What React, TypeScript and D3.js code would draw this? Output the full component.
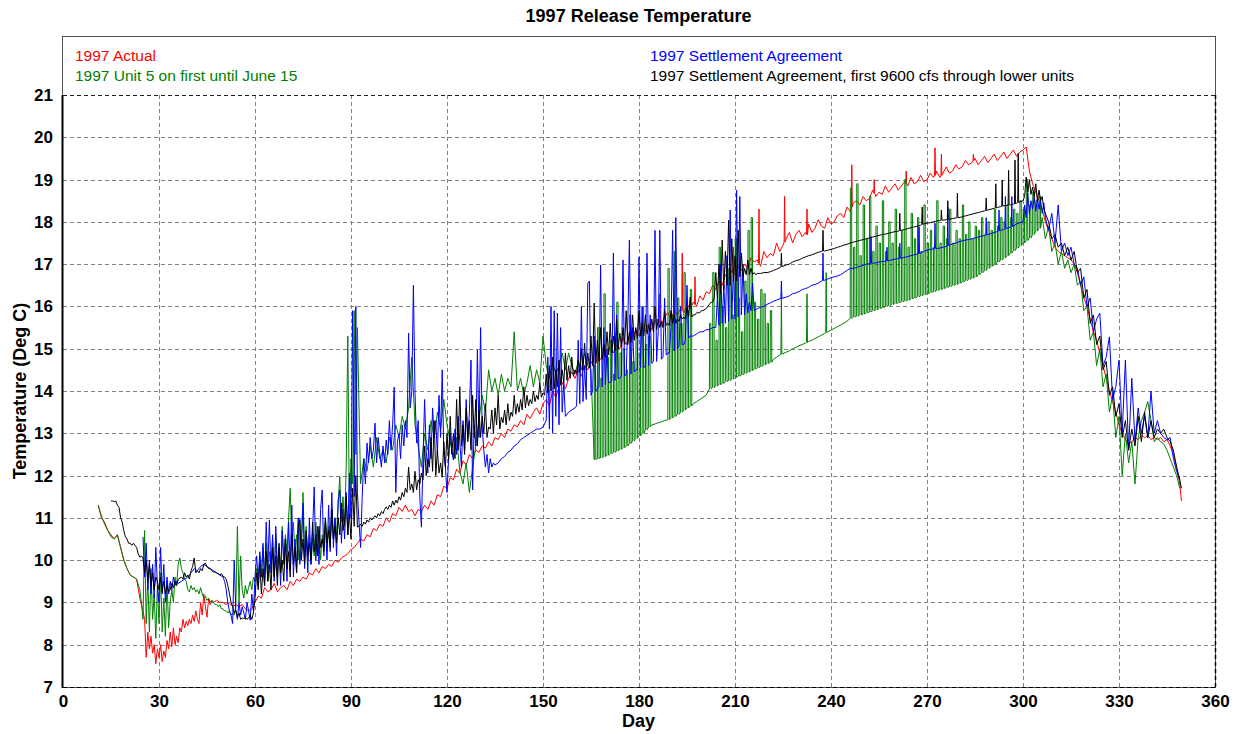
import React, { useEffect, useRef } from "react";
import * as d3 from "d3";

// [startDay, stepDays, temps]
type Run = [number, number, number[]];
// [day, base temp, spike top]
type Spike = [number, number, number];
// [firstDay, daily lows, daily highs]
type Bars = [number, number[], number[]];
type Point = [number, number];

const dayTicks = [0, 30, 60, 90, 120, 150, 180, 210, 240, 270, 300, 330, 360];
const tempTicks = [7, 8, 9, 10, 11, 12, 13, 14, 15, 16, 17, 18, 19, 20, 21];

const seriesNames = [
  "1997 Actual",
  "1997 Unit 5 on first until June 15",
  "1997 Settlement Agreement",
  "1997 Settlement Agreement, first 9600 cfs through lower units",
];
const seriesColors = ["#ff0000", "#008000", "#0000ff", "#000000"];

// ---- 1997 Actual (red)
const actualRuns: Run[] = [
  [11, 1, [11.3, 11.0, 10.9, 10.7, 10.6, 10.5, 10.6, 10.3, 10.0, 9.8, 9.65, 9.6, 9.55, 9.1]],
  [25, 0.5, [
    8.8, 8.6, 7.7, 8.3, 7.9, 8.2, 7.8, 8.0, 7.55, 7.9,
    7.7, 8.0, 7.6, 7.85, 7.7, 8.1, 7.9, 8.3, 7.95, 8.4,
    8.0, 8.2, 8.05, 8.4, 8.3, 8.6, 8.4, 8.55, 8.45, 8.6,
    8.5, 8.7, 8.55, 8.8, 8.6, 8.5, 9.0, 8.7, 9.2, 8.9,
    8.65, 9.1, 8.95, 9.05, 9.0,
  ]],
  [48, 1, [
    9.05, 9.0, 9.0, 8.95, 9.0, 8.9, 8.95, 8.9, 8.95, 8.85,
    8.8, 8.85, 9.0, 9.15, 9.1, 9.35, 9.25, 9.3, 9.45, 9.25,
    9.35, 9.4, 9.3, 9.5, 9.4, 9.55, 9.5, 9.6, 9.55, 9.7,
    9.65, 9.8, 9.7, 9.85, 9.8, 9.9, 9.85, 10.0, 9.95, 10.05,
    10.1, 10.15, 10.25, 10.3, 10.4,
  ]],
  [93, 1, [
    10.5, 10.45, 10.6, 10.55, 10.75, 10.7, 10.85, 10.8, 11.0, 10.9,
    11.1, 11.05, 11.25, 11.15, 11.3, 11.15, 11.2, 11.05, 11.2, 11.15,
    11.3, 11.2, 11.4, 11.3, 11.55, 11.5, 11.75, 11.7, 11.95, 11.9,
    12.15, 12.05, 12.35, 12.25, 12.5, 12.4, 12.6, 12.55, 12.7, 12.65,
    12.8, 12.7, 12.9, 12.85, 13.0, 12.9, 13.1, 13.05, 13.2, 13.15,
  ]],
  [143, 1, [
    13.3, 13.2, 13.45, 13.35, 13.5, 13.6, 13.45, 13.7, 13.8, 13.65,
    14.0, 13.85, 14.1, 14.2, 14.05, 14.3, 14.45, 14.3, 14.5, 14.35,
    14.6, 14.5, 14.7, 14.55, 14.8, 14.75, 14.9, 14.8, 15.05, 14.9,
    15.1, 15.0, 15.25, 15.1, 15.3, 15.25, 15.45, 15.3, 15.5, 15.4,
    15.6, 15.45, 15.65, 15.7, 15.55, 15.75, 15.85, 15.7, 15.9, 15.8,
    15.95, 15.85, 16.05, 15.95, 16.1, 16.0, 16.25, 16.15, 16.35, 16.3,
    16.5, 16.4, 16.6, 16.5, 16.75, 16.65, 16.85, 16.75, 16.95, 16.85,
  ]],
  [213, 1, [
    17.0, 16.9, 17.15, 17.05, 17.1, 16.95, 17.3, 17.15, 17.25, 17.2,
    17.5, 17.3, 17.45, 17.6, 17.75, 17.5, 17.7, 17.8, 17.65, 17.75,
    17.95, 17.75, 17.85, 18.05, 17.9, 17.85, 18.1, 17.95, 18.0, 18.15,
    18.2, 18.1, 18.35, 18.25, 18.45, 18.5, 18.4, 18.6, 18.5, 18.55,
    18.75, 18.6, 18.7, 18.65, 18.85, 18.7, 18.8, 18.9, 18.75, 18.85,
    18.95, 18.85, 19.05, 18.9, 18.95, 19.1, 18.95, 19.0, 19.15, 19.05,
    19.2, 19.05, 19.15, 19.3, 19.15, 19.2, 19.35, 19.25, 19.3, 19.45,
    19.35, 19.4, 19.5, 19.35, 19.45, 19.55, 19.4, 19.5, 19.6, 19.45,
    19.55, 19.65, 19.5, 19.6, 19.7, 19.55, 19.65, 19.7, 19.77,
  ]],
  [302, 1, [
    19.2, 18.9, 18.7, 18.5, 18.3, 18.0, 17.8, 17.6, 17.4, 17.3,
    17.25, 17.2, 17.15, 17.1, 17.0, 16.8, 16.5, 16.2, 16.0, 15.7,
    15.4, 15.2, 14.9, 14.6, 14.3, 14.0, 13.75, 13.5, 13.2, 13.0,
    12.85, 12.75, 12.8, 12.9, 12.85, 12.95, 12.9, 12.95, 12.85, 12.9,
    12.85, 12.9, 12.8, 12.85, 12.7, 12.5, 12.2, 11.8,
  ]],
  [349.5, 1, [11.4]],
];
const actualSpikes: Spike[] = [
  [186.5, 15.62, 16.3], [193.5, 15.9, 17.26], [197.5, 16.05, 16.7], [209.5, 16.8, 17.4],
  [217.5, 17.02, 18.3], [225.5, 17.52, 18.6], [232.5, 17.7, 18.3], [246.5, 18.35, 19.35],
  [253.5, 18.68, 19.0], [263.5, 18.9, 19.2], [272.5, 19.1, 19.75], [274.5, 19.1, 19.6],
  [284.5, 19.45, 19.6],
];

// ---- 1997 Unit 5 on first until June 15 (green)
const unit5Runs: Run[] = [
  [11, 1, [11.3, 11.05, 10.85, 10.7, 10.55, 10.5, 10.6, 10.3, 10.0, 9.8, 9.65, 9.6, 9.55, 9.3]],
  [24.5, 0.5, [9.0, 8.6, 10.7, 8.5, 9.6, 8.3, 9.8, 8.6, 9.2, 8.15, 9.4, 8.5, 9.7, 8.3, 9.1, 8.2, 9.5, 8.4, 9.0]],
  [34, 0.5, [
    9.3, 9.0, 9.6, 9.4, 9.9, 10.05, 9.8, 9.7, 9.55, 9.5,
    9.3, 9.25, 9.4, 9.3, 9.35, 9.25, 9.3, 9.2, 9.35, 9.2,
    9.1, 9.15, 9.05, 9.1, 9.0, 9.05, 9.0, 8.95, 8.95, 8.9,
    8.95, 8.85, 8.85, 8.8, 8.8, 8.75, 8.8, 8.7, 8.75, 8.7,
    8.9, 10.8, 9.0, 10.1, 9.3, 9.1, 9.4, 9.2, 9.35, 9.5,
    9.3, 9.6, 9.5,
  ]],
  [60.5, 0.5, [
    9.8, 9.4, 10.1, 9.6, 10.3, 9.7, 10.4, 9.5, 10.2, 9.8,
    10.5, 9.6, 10.6, 9.9, 10.3, 9.7, 10.8, 10.0, 10.6, 10.2,
    11.0, 11.7, 10.4, 10.9, 10.1, 10.6, 10.0, 11.0, 10.3, 11.6,
    10.2, 10.8, 10.0, 10.6, 9.9, 10.5, 10.1, 10.9, 10.2, 10.7,
    10.0, 10.6, 10.3, 11.0, 10.2, 10.8, 10.4, 11.2, 10.5, 11.0,
    10.6, 11.4, 11.97, 10.9, 11.5, 10.8, 12.2, 15.3, 11.0, 12.4,
    11.8, 15.9, 12.5, 15.5,
  ]],
  [93, 1, [
    11.8, 12.4, 12.1, 12.7, 12.2, 12.9, 12.4, 12.6, 12.3, 12.9,
    12.6, 13.2, 12.9, 13.4, 13.1, 13.6, 14.8, 13.2, 12.7, 12.2,
    13.0, 12.6, 13.3, 12.9, 13.5, 13.1, 13.8, 13.2, 12.8, 12.4,
    12.9, 12.1, 11.8, 12.3, 11.6, 12.2, 12.7, 13.3, 13.9, 13.5,
    14.5, 14.0, 14.3, 13.9, 14.4, 14.0, 14.3, 14.1, 15.4, 14.0,
    14.3, 13.9, 14.2, 14.6, 14.1, 14.5, 14.2, 15.3, 14.6, 14.3,
    14.7, 14.4, 14.6, 14.9, 14.5, 14.9, 14.6, 14.4, 14.7, 14.5,
    14.9, 14.6, 14.5,
  ]],
  [184, 1, [13.2, 13.22, 13.25, 13.27, 13.3]],
  [197, 1, [13.7, 13.75, 13.8, 13.85, 13.9]],
  [222, 1, [
    14.75, 14.8, 14.85, 14.88, 14.92, 14.95, 15.0, 15.03, 15.07, 15.1,
    15.13, 15.17, 15.2, 15.24, 15.28, 15.32, 15.36, 15.4, 15.44, 15.48,
    15.52, 15.56, 15.6, 15.65,
  ]],
  [306, 1, [
    18.1, 17.6, 17.9, 17.3, 17.5, 17.0, 17.3, 16.9, 17.1, 16.8,
    17.0, 16.5, 16.6, 15.9, 16.0, 15.2, 15.4, 14.6, 15.0, 14.1,
    14.4, 13.5, 13.9, 12.9, 13.4, 12.0, 13.0, 12.3, 12.8, 11.8,
    12.9, 13.3, 13.5, 13.75, 13.3, 12.8, 12.9, 12.8, 12.75, 12.6,
    12.4, 12.2, 12.0, 11.7,
  ]],
];
const unit5Spikes: Spike[] = [[224.5, 14.87, 16.3], [232.5, 15.15, 16.3], [238.5, 15.38, 16.8]];
const unit5Bars: Bars[] = [
  [166,
    [12.38, 12.4, 12.42, 12.45, 12.48, 12.52, 12.55, 12.58, 12.62, 12.66, 12.7, 12.76, 12.82, 12.88, 12.94, 13.0, 13.08, 13.15],
    [14.6, 15.5, 14.3, 16.3, 14.8, 15.2, 14.4, 16.1, 14.9, 15.0, 14.5, 15.8, 14.7, 15.4, 14.9, 16.0, 15.1, 15.3]],
  [189,
    [13.32, 13.36, 13.4, 13.45, 13.5, 13.55, 13.6, 13.65],
    [16.9, 15.8, 17.3, 16.2, 15.6, 16.8, 15.9, 16.4]],
  [202,
    [14.05, 14.08, 14.12, 14.15, 14.18, 14.22, 14.25, 14.28, 14.32, 14.35, 14.38, 14.42, 14.45, 14.48, 14.52, 14.55, 14.58, 14.62, 14.65, 14.68],
    [15.6, 16.8, 15.2, 17.4, 16.0, 15.5, 16.9, 15.8, 17.6, 16.2, 15.4, 16.6, 17.8, 18.1, 16.1, 15.7, 16.4, 16.3, 15.6, 15.9]],
  [246,
    [
      15.72, 15.75, 15.77, 15.8, 15.82, 15.85, 15.87, 15.9, 15.92, 15.95,
      15.97, 16.0, 16.02, 16.05, 16.07, 16.09, 16.11, 16.13, 16.15, 16.18,
      16.2, 16.23, 16.25, 16.28, 16.3, 16.33, 16.35, 16.38, 16.4, 16.42,
      16.45, 16.47, 16.5, 16.52, 16.55, 16.58, 16.61, 16.64, 16.67, 16.7,
      16.75, 16.8, 16.85, 16.9, 16.95, 17.0, 17.05, 17.1, 17.15, 17.2,
      17.26, 17.32, 17.38, 17.44, 17.5, 17.56, 17.62, 17.7, 17.78, 17.85,
    ],
    [
      18.8, 17.4, 18.9, 17.2, 18.4, 17.6, 18.6, 17.3, 17.9, 17.5,
      18.5, 17.3, 18.0, 17.5, 18.3, 17.4, 17.8, 19.0, 17.4, 18.2,
      17.6, 18.1, 17.3, 18.4, 17.5, 17.8, 17.4, 18.5, 17.5, 17.9,
      17.6, 18.3, 17.5, 17.8, 17.6, 18.4, 17.7, 18.0, 17.6, 17.9,
      17.8, 18.1, 17.7, 18.0, 17.8, 18.3, 17.9, 18.1, 18.0, 18.4,
      18.1, 18.3, 18.2, 18.5, 18.3, 19.0, 18.4, 18.7, 18.5, 18.6,
    ]],
];

// ---- 1997 Settlement Agreement (blue)
const settlementRuns: Run[] = [
  [25, 0.5, [10.55, 9.6, 10.4, 9.3, 10.0, 9.2, 9.9, 9.1, 10.3, 9.4, 9.0, 10.3, 9.2, 9.9, 9.0, 9.6, 9.2, 9.5, 9.3, 9.6, 9.4, 9.5, 9.45]],
  [37, 1, [9.5, 9.55, 9.6, 9.7, 9.8, 9.75, 9.85, 9.9, 9.85, 9.8, 9.75, 9.7, 9.65, 9.6]],
  [50.5, 0.5, [9.5, 9.3, 9.0, 8.8, 8.7, 8.5, 10.0, 8.8, 8.6, 9.0, 8.7, 8.9, 8.75, 8.6, 9.0, 8.8, 8.58, 9.2, 8.8, 9.6]],
  [60.5, 0.5, [
    10.1, 9.5, 10.2, 9.6, 10.4, 9.4, 10.9, 9.8, 10.95, 9.7,
    10.6, 9.5, 10.8, 9.6, 10.3, 9.4, 10.7, 9.9, 10.5, 9.5,
    10.9, 9.8, 11.3, 9.6, 10.5, 9.7, 11.0, 9.9, 10.4, 11.35,
    9.8, 10.6, 9.7, 11.0, 9.9, 10.7, 11.73, 10.0, 10.8, 9.9,
    11.2, 11.66, 10.1, 10.9, 10.0, 11.3, 10.2, 11.6, 10.3, 11.0,
    10.1, 11.4, 11.66, 10.4, 11.2, 10.5, 11.6, 10.6, 12.06, 11.0,
    15.9, 11.5, 16.0, 11.6,
  ]],
  [92.5, 0.5, [
    10.9, 10.3, 11.5, 12.4, 11.8, 12.77, 12.3, 12.9, 12.4, 12.6,
    13.24, 12.3, 12.9, 12.5, 12.2, 12.7, 12.3, 12.84, 12.5, 13.3,
    12.6, 13.2, 14.09, 11.6, 12.8, 13.0, 12.4, 13.2, 12.7, 13.3,
    12.9, 15.37, 13.6, 14.0, 16.5, 13.95, 12.77, 13.3, 11.5, 10.78,
    12.4, 13.8, 12.6, 12.06, 13.2, 12.4, 13.6, 12.9, 13.3, 12.5,
    13.9, 12.9, 14.5, 12.53, 12.2, 11.6, 12.4, 13.0, 12.6, 12.37,
    13.1, 12.5, 13.4, 12.8, 12.2, 13.3, 12.6, 13.8, 12.9, 13.5,
    14.73, 11.66, 13.2, 12.7, 14.97, 12.9, 15.5, 13.15, 12.6, 12.2,
    12.5, 12.06, 12.4, 12.2, 12.3, 12.25,
  ]],
  [136, 1, [12.3, 12.4, 12.45, 12.55, 12.6, 12.7, 12.75, 12.85, 12.9, 12.95, 13.0, 13.05, 13.1, 13.1, 13.15]],
  [151, 0.5, [13.3, 14.8, 13.1, 16.0, 13.0, 15.9, 13.4, 15.84, 13.2, 15.5, 13.5, 14.2, 13.4]],
  [158, 1, [13.5, 13.55, 13.6]],
  [160.5, 0.5, [
    13.65, 15.2, 13.7, 16.0, 13.75, 14.6, 13.8, 16.55, 16.6, 13.9,
    14.0, 15.3, 14.0, 14.05, 14.1, 16.98, 14.1, 15.5, 14.15, 15.0,
    14.2, 14.2, 14.25, 17.26, 14.25, 15.8, 14.3, 14.3, 14.35, 17.1,
    14.35, 14.4, 15.6, 17.57, 14.4, 15.5, 14.45, 14.5, 14.5, 17.17,
    14.55, 16.0, 14.55, 14.6, 17.26, 14.6, 15.8, 14.65, 14.7, 17.8,
    14.7, 15.4, 17.8, 14.75, 14.8, 16.2, 14.85, 14.9, 14.9, 15.5,
    17.8, 14.95, 18.1, 15.0, 15.05, 16.0, 15.1, 15.1, 15.2, 16.5,
    15.25, 15.3,
  ]],
  [197, 1, [15.3, 15.35, 15.4, 15.4, 15.45, 15.45, 15.5, 15.5]],
  [204.5, 0.5, [
    16.2, 15.55, 17.0, 15.6, 16.5, 15.6, 17.2, 15.65, 18.28, 15.7,
    16.9, 15.7, 18.75, 15.75, 18.6, 15.8, 17.0, 15.8, 16.3, 15.85,
    16.1, 15.9, 16.55, 15.9,
  ]],
  [217, 1, [
    15.95, 15.98, 16.0, 16.05, 16.08, 16.12, 16.15, 16.18, 16.2, 16.22,
    16.25, 16.3, 16.32, 16.35, 16.4, 16.42, 16.45, 16.5, 16.52, 16.55,
    16.6, 16.62, 16.65, 16.68, 16.7, 16.72, 16.75, 16.8, 16.85, 16.9,
    16.9, 16.92, 16.95, 16.97, 17.0, 17.01, 17.02, 17.03, 17.05, 17.06,
    17.07, 17.08, 17.1, 17.12, 17.13, 17.14, 17.16, 17.18, 17.2, 17.22,
    17.24, 17.26, 17.3, 17.33, 17.35, 17.36, 17.37, 17.38, 17.4, 17.42,
    17.45, 17.48, 17.5, 17.53, 17.55, 17.57, 17.58, 17.6, 17.62, 17.64,
    17.66, 17.68, 17.7, 17.72, 17.75, 17.77, 17.8, 17.82, 17.85, 17.87,
    17.9, 17.95, 17.98, 18.0,
  ]],
  [300.5, 0.5, [18.4, 18.1, 18.68, 18.2, 18.5, 18.3, 18.6, 18.25, 18.55, 18.3, 18.5, 18.2, 18.45, 18.1]],
  [308, 1, [
    17.8, 18.2, 17.5, 18.4, 17.3, 17.5, 17.2, 17.4, 17.0, 16.9,
    16.5, 16.7, 16.0, 16.2, 15.4, 15.7, 15.84, 14.6, 14.8, 15.28,
    13.8, 14.1, 14.73, 13.0, 14.73, 12.6, 14.3, 12.8, 13.6, 13.0,
    13.4, 12.9, 14.0, 13.0, 13.3, 13.0, 12.9, 12.85, 12.9, 12.4,
    12.1, 11.9,
  ]],
];
const settlementSpikes: Spike[] = [
  [224.5, 16.19, 16.6], [237.5, 16.61, 17.26], [252.5, 17.02, 17.65], [257.5, 17.08, 17.4],
  [261.5, 17.14, 17.5], [267.5, 17.25, 17.88], [272.5, 17.37, 17.97], [276.5, 17.44, 18.35],
  [288.5, 17.69, 18.1], [292.5, 17.79, 18.28], [294.5, 17.84, 18.6], [296.5, 17.89, 18.6],
];

// ---- 1997 Settlement Agreement, first 9600 cfs through lower units (black)
const lowerUnitsRuns: Run[] = [
  [15, 0.5, [11.4, 11.4, 11.38, 11.4, 11.3, 11.25, 11.0, 10.9, 10.7, 10.55, 10.5, 10.4, 10.4, 10.35, 10.4, 10.35, 10.3, 10.15, 10.07, 10.1]],
  [25, 0.5, [10.05, 9.7, 10.0, 9.5, 9.9, 9.4, 9.7, 9.3, 9.6, 9.5, 9.3, 9.6, 9.25, 9.5, 9.2, 9.4, 9.25, 9.3, 9.45, 9.35, 9.5, 9.4, 9.55]],
  [37, 0.5, [
    9.6, 9.55, 9.7, 9.6, 9.65, 9.55, 9.75, 9.85, 10.05, 9.7,
    9.75, 9.7, 9.8, 9.75, 9.9, 9.93, 9.85, 9.8, 9.8, 9.75,
    9.72, 9.72, 9.7, 9.68, 9.65, 9.68, 9.62, 9.6, 9.55, 9.4,
    9.22, 9.0, 8.9, 8.75, 8.82, 8.65, 8.75, 8.6, 8.63, 8.62,
    8.65, 8.6, 8.63, 8.7, 8.6, 8.75, 9.1,
  ]],
  [60.5, 0.5, [
    9.7, 9.3, 9.9, 9.2, 9.8, 9.4, 10.2, 9.5, 9.9, 9.3,
    10.3, 9.6, 10.1, 9.4, 10.4, 9.7, 10.0, 9.5, 10.5, 9.8,
    10.2, 9.6, 10.6, 9.9, 10.3, 9.7, 10.8, 10.95, 10.0, 10.5,
    9.9, 10.7, 10.1, 10.4, 10.0, 10.9, 10.2, 10.6, 10.1, 10.8,
    10.3, 10.5, 10.2, 11.0, 10.4, 10.7, 10.3, 11.2, 10.5, 10.8,
    10.4, 11.0, 10.6, 11.35, 10.7, 10.9, 11.5, 10.6, 11.1, 10.5,
    11.7, 10.8, 12.0, 10.78,
  ]],
  [92.5, 0.5, [
    10.8, 10.85, 10.8, 10.9, 10.85, 10.95, 10.9, 11.0, 10.95, 11.0,
    11.05, 11.0, 11.1, 11.05, 11.15, 11.1, 11.2, 11.26, 11.2, 11.3,
    11.25, 11.4, 11.3, 11.42, 11.35, 11.5, 11.42, 11.6, 11.5, 11.7,
    11.6, 12.2, 11.66, 11.8, 11.6, 12.1, 11.66, 11.9, 11.8, 12.06,
    11.9, 12.7, 12.0, 12.4, 12.2, 12.9, 12.1, 13.3, 12.0, 12.6,
    12.06, 12.3, 11.96, 12.8, 12.2, 13.0, 12.37, 13.4, 12.5, 13.0,
    12.4, 13.8, 12.6, 14.1, 12.7, 13.2, 12.5, 13.6, 12.8, 13.3,
    12.6, 13.9, 12.9, 13.8, 12.7, 13.55, 12.9, 13.4, 13.0, 13.7,
    12.9, 13.15, 13.1, 13.55, 13.0, 13.6, 13.2, 13.9, 13.1, 13.38,
    13.25, 13.55, 13.2, 13.7, 13.3, 13.5,
  ]],
  [140.5, 0.5, [
    13.4, 13.9, 13.45, 13.7, 13.5, 13.8, 13.55, 14.1, 13.6, 13.9,
    13.65, 13.8, 13.7, 14.0, 13.75, 13.9, 13.8, 14.2, 13.85, 13.95,
    13.9, 14.4, 13.95, 14.6, 14.0, 14.8, 14.05, 14.5, 14.1, 14.73,
    14.15, 14.5, 14.2, 14.9, 14.25, 14.6, 14.3, 14.8, 14.35, 14.5,
  ]],
  [160.5, 0.5, [
    14.42, 14.73, 14.45, 15.0, 14.5, 15.13, 14.5, 14.9, 14.55, 15.3,
    14.6, 16.08, 14.65, 15.2, 14.7, 15.5, 14.75, 15.1, 14.8, 15.4,
    14.85, 15.6, 14.9, 15.3, 14.95, 15.7, 15.0, 15.37, 15.05, 15.5,
    15.1, 15.9, 15.1, 15.4, 15.15, 15.8, 15.2, 15.5, 15.25, 15.9,
    15.3, 15.6, 15.3, 15.8, 15.35, 15.55, 15.4, 15.7, 15.4, 16.0,
    15.45, 15.7, 15.5, 15.65, 15.5, 15.9, 15.55, 15.6, 15.55, 15.9,
    15.6, 15.8, 15.6, 15.7, 15.65, 15.8, 15.7, 15.75, 15.7, 16.0,
    15.75, 16.22, 15.75, 15.8, 15.8, 15.85, 15.85, 15.85, 15.9, 15.9,
  ]],
  [201, 0.5, [
    15.95, 16.0, 16.05, 16.1, 16.1, 16.2, 16.8, 16.2, 17.0, 16.3,
    17.57, 16.4, 17.3, 16.5, 18.04, 16.5, 17.6, 16.6, 17.2, 16.6,
    17.8, 16.7, 17.26, 16.7, 16.9, 16.75, 17.1, 16.75, 16.9, 16.75,
    16.8, 16.75, 16.78,
  ]],
  [218, 1, [
    16.78, 16.8, 16.8, 16.82, 16.85, 16.88, 16.92, 16.95, 16.98, 17.0,
    17.05, 17.08, 17.1, 17.14, 17.17, 17.2, 17.22, 17.25, 17.28, 17.3,
    17.31, 17.33, 17.35, 17.37, 17.4, 17.42, 17.45, 17.47, 17.5, 17.52,
    17.54, 17.56, 17.58, 17.6, 17.62, 17.64, 17.66, 17.68, 17.7, 17.71,
    17.73, 17.75, 17.77, 17.78, 17.8, 17.82, 17.84, 17.86, 17.88, 17.9,
    17.92, 17.95, 17.97, 17.98, 18.0, 18.02, 18.03, 18.04, 18.05, 18.06,
    18.08, 18.09, 18.1, 18.12, 18.14, 18.16, 18.18, 18.2, 18.22, 18.24,
    18.26, 18.28, 18.3, 18.32, 18.34, 18.36, 18.38, 18.39, 18.4, 18.42,
    18.44, 18.47, 18.5,
  ]],
  [300.5, 0.5, [18.6, 19.06, 18.7, 19.0, 18.65, 18.82, 18.6, 18.9, 18.5, 18.75, 18.5, 18.6, 18.3]],
  [307, 1, [
    18.2, 18.0, 17.6, 17.7, 17.4, 17.5, 17.2, 17.4, 17.1, 17.3,
    16.8, 16.9, 16.2, 16.4, 15.6, 15.8, 15.1, 15.3, 14.5, 14.7,
    13.9, 14.1, 13.4, 13.7, 12.9, 13.3, 12.6, 13.1, 12.7, 13.4,
    12.8, 13.5, 12.9, 13.3, 12.9, 13.1, 13.0, 13.1, 12.9, 12.8,
    12.6, 12.2, 11.9,
  ]],
  [349.5, 1, [11.7]],
];
const lowerUnitsSpikes: Spike[] = [
  [224.5, 16.94, 17.26], [237.5, 17.31, 17.8], [261.5, 17.79, 18.2], [268.5, 17.94, 18.35],
  [274.5, 18.04, 18.28], [276.5, 18.06, 18.5], [279.5, 18.1, 18.68], [288.5, 18.27, 18.56],
  [291.5, 18.33, 18.9], [293.5, 18.37, 18.99], [295.5, 18.4, 19.22], [297.5, 18.43, 19.46],
  [298.5, 18.46, 19.62],
];

const fromRuns = (runs: Run[]): Point[] =>
  runs.flatMap(([start, step, temps]) => temps.map((t, i) => [start + i * step, t] as Point));

const fromSpikes = (spikes: Spike[]): Point[] =>
  spikes.flatMap(([d, base, top]) => [
    [d - 0.15, base],
    [d, top],
    [d + 0.15, base],
  ] as Point[]);

// one flat-topped pulse per day, rising off the daily low
const fromBars = (bars: Bars[]): Point[] =>
  bars.flatMap(([start, lows, highs]) =>
    lows.flatMap((low, i) => [
      [start + i, low],
      [start + i + 0.05, highs[i]],
      [start + i + 0.45, highs[i]],
      [start + i + 0.5, low],
    ] as Point[])
  );

const byDay = (...parts: Point[][]) => parts.flat().sort((a, b) => a[0] - b[0]);

const FONT = "Arial, 'Liberation Sans', Helvetica, sans-serif";

const ReleaseTemperatureChart: React.FC = () => {
  const svgRef = useRef<SVGSVGElement>(null);

  useEffect(() => {
    const width = 1240;
    const height = 734;
    const svg = d3.select(svgRef.current);
    svg.selectAll("*").remove();

    const x = d3.scaleLinear().domain([0, 360]).range([63, 1215]);
    const y = d3.scaleLinear().domain([7, 21]).range([687, 95]);

    svg.append("rect").attr("width", width).attr("height", height).attr("fill", "#ffffff");

    // outer frame (legend sits inside it, above the 21 line)
    svg
      .append("rect")
      .attr("x", 62.5)
      .attr("y", 36.5)
      .attr("width", 1153)
      .attr("height", 651)
      .attr("fill", "none")
      .attr("stroke", "#505050")
      .attr("stroke-width", 1);

    const grid = svg.append("g");
    grid
      .selectAll("line.h")
      .data(tempTicks.filter((t) => t > 7 && t < 21))
      .join("line")
      .attr("x1", x(0))
      .attr("x2", x(360))
      .attr("y1", (d) => Math.round(y(d)) + 0.5)
      .attr("y2", (d) => Math.round(y(d)) + 0.5)
      .attr("stroke", "#808080")
      .attr("stroke-dasharray", "4,3");
    grid
      .selectAll("line.v")
      .data(dayTicks.filter((d) => d > 0 && d < 360))
      .join("line")
      .attr("x1", (d) => Math.round(x(d)) + 0.5)
      .attr("x2", (d) => Math.round(x(d)) + 0.5)
      .attr("y1", y(21))
      .attr("y2", y(7))
      .attr("stroke", "#808080")
      .attr("stroke-dasharray", "4,3");

    // top of plotting area (21) and right edge are dark dashed
    svg
      .append("line")
      .attr("x1", x(0))
      .attr("x2", x(360))
      .attr("y1", Math.round(y(21)) + 0.5)
      .attr("y2", Math.round(y(21)) + 0.5)
      .attr("stroke", "#202020")
      .attr("stroke-dasharray", "4,3");
    svg
      .append("line")
      .attr("x1", Math.round(x(360)) + 0.5)
      .attr("x2", Math.round(x(360)) + 0.5)
      .attr("y1", y(21))
      .attr("y2", y(7))
      .attr("stroke", "#000")
      .attr("stroke-width", 1.5)
      .attr("stroke-dasharray", "4,3");

    // series
    const line = d3
      .line<Point>()
      .x((d) => x(d[0]))
      .y((d) => y(d[1]));

    const series: Point[][] = [
      byDay(fromRuns(actualRuns), fromSpikes(actualSpikes)),
      byDay(fromRuns(unit5Runs), fromSpikes(unit5Spikes), fromBars(unit5Bars)),
      byDay(fromRuns(settlementRuns), fromSpikes(settlementSpikes)),
      byDay(fromRuns(lowerUnitsRuns), fromSpikes(lowerUnitsSpikes)),
    ];

    svg
      .append("g")
      .selectAll("path")
      .data(series)
      .join("path")
      .attr("d", (d) => line(d))
      .attr("fill", "none")
      .attr("stroke", (_, i) => seriesColors[i])
      .attr("stroke-width", 1)
      .attr("stroke-linejoin", "miter");

    // axes
    const yAxis = svg
      .append("g")
      .attr("transform", `translate(${x(0)},0)`)
      .call(d3.axisLeft(y).tickValues(tempTicks).tickSize(0).tickPadding(10).tickFormat(d3.format("d")));
    const xAxis = svg
      .append("g")
      .attr("transform", `translate(0,${y(7)})`)
      .call(d3.axisBottom(x).tickValues(dayTicks).tickSize(0).tickPadding(8).tickFormat(d3.format("d")));
    [yAxis, xAxis].forEach((g) => {
      g.select(".domain").remove();
      g.selectAll("text")
        .attr("fill", "#000")
        .style("font-family", FONT)
        .style("font-size", "17px")
        .style("font-weight", "bold");
    });

    svg
      .append("line")
      .attr("x1", x(0))
      .attr("x2", x(360))
      .attr("y1", y(7) + 0.5)
      .attr("y2", y(7) + 0.5)
      .attr("stroke", "#000")
      .attr("stroke-dasharray", "4,3");
    svg
      .append("line")
      .attr("x1", 62.5)
      .attr("x2", 62.5)
      .attr("y1", y(21))
      .attr("y2", y(7) + 1)
      .attr("stroke", "#000")
      .attr("stroke-width", 2);

    // titles
    svg
      .append("text")
      .attr("x", 638.5)
      .attr("y", 22)
      .attr("text-anchor", "middle")
      .style("font-family", FONT)
      .style("font-size", "18px")
      .style("font-weight", "bold")
      .text("1997 Release Temperature");
    svg
      .append("text")
      .attr("x", 638.5)
      .attr("y", 727)
      .attr("text-anchor", "middle")
      .style("font-family", FONT)
      .style("font-size", "18px")
      .style("font-weight", "bold")
      .text("Day");
    svg
      .append("text")
      .attr("transform", "translate(26,391) rotate(-90)")
      .attr("text-anchor", "middle")
      .style("font-family", FONT)
      .style("font-size", "18px")
      .style("font-weight", "bold")
      .text("Temperature (Deg C)");

    // legend: two columns of two lines
    svg
      .append("g")
      .selectAll("text")
      .data(seriesNames)
      .join("text")
      .attr("x", (_, i) => (i < 2 ? 75 : 650))
      .attr("y", (_, i) => (i % 2 === 0 ? 61 : 81))
      .attr("fill", (_, i) => seriesColors[i])
      .style("font-family", FONT)
      .style("font-size", "15.5px")
      .text((d) => d);

    return () => {
      svg.selectAll("*").remove();
    };
  }, []);

  return (
    <svg
      ref={svgRef}
      width={1240}
      height={734}
      viewBox="0 0 1240 734"
      style={{ position: "absolute", left: 0, top: 0, display: "block" }}
    />
  );
};

export default function App() {
  return <ReleaseTemperatureChart />;
}
